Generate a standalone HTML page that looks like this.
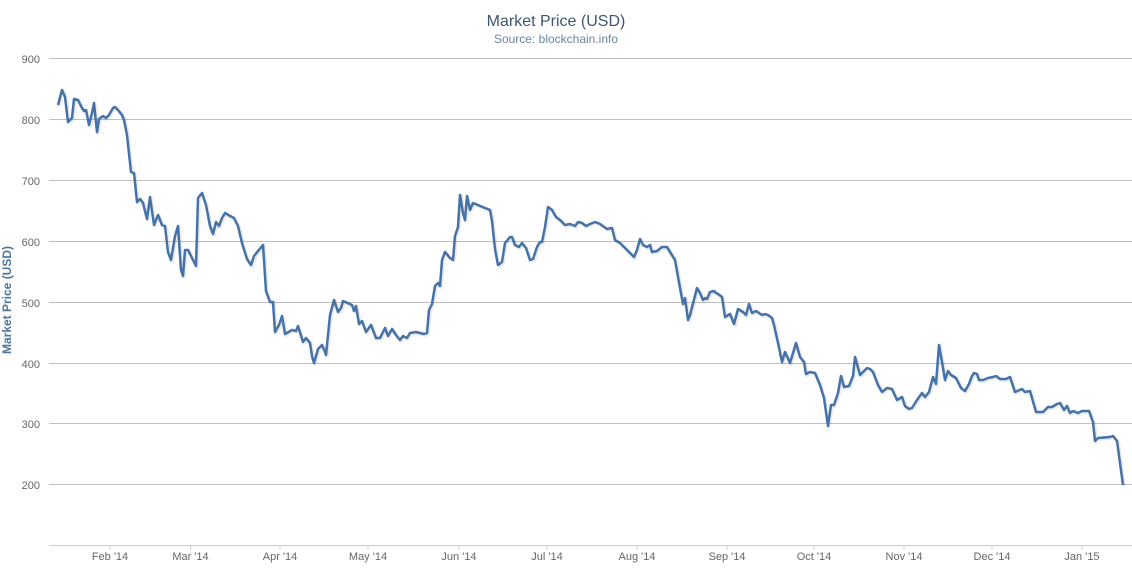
<!DOCTYPE html>
<html><head><meta charset="utf-8"><style>
html,body{margin:0;padding:0;background:#fff;}
svg{display:block;font-family:"Liberation Sans",sans-serif;}
</style></head><body>
<svg width="1132" height="568" viewBox="0 0 1132 568" xmlns="http://www.w3.org/2000/svg">
<defs>
<polyline id="pl" points="58,105 62,90 65,97 68,122 72,118 74,99 78,100 82,108 84,111 86,110 89,125 92,113 94,103 97,132 99,119 103,116 106,118 109,115 113,108 115,107 118,110 122,115 124,120 127,135 131,172 134,173 137,202 140,199 143,203 147,219 150,197 154,225 158,215 162,225 165,226 168,252 171,260 175,236 178,226 181,270 183,276 185,250 188,250 192,258 196,266 198,198 202,193 206,205 210,226 213,234 216,222 219,226 222,218 225,213 230,216 234,218 238,226 242,243 247,259 251,265 254,256 258,251 263,245 266,291 270,302 273,302 275,332 279,325 282,316 285,334 292,330 296,331 298,326 303,342 306,338 310,343 312,356 314,363 318,349 322,345 325,352 326,355 330,315 334,300 338,312 341,308 343,301 352,305 354,311 356,306 359,324 362,321 366,332 371,325 376,338 380,338 385,328 388,336 392,329 396,335 400,340 403,336 407,338 410,333 416,332 424,334 427,333 429,310 432,304 435,286 438,283 440,286 442,260 445,252 450,258 453,260 455,236 458,227 460,195 463,213 465,220 467,196 470,210 473,203 485,208 490,210 492,221 495,249 498,265 502,262 505,243 510,237 512,237 515,245 519,247 522,243 526,248 530,260 533,259 537,247 540,242 542,242 545,227 548,207 552,210 556,217 560,220 565,225 570,224 575,226 578,222 582,223 586,226 590,224 595,222 600,224 607,229 612,228 615,240 620,243 625,248 630,253 634,257 637,250 640,239 643,245 647,247 650,245 652,252 657,251 662,247 667,247 670,252 675,260 680,288 683,304 685,298 688,320 690,315 697,288 700,293 703,300 705,298 707,299 710,292 714,291 716,293 718,294 722,297 725,317 730,314 734,324 738,309 743,312 746,315 749,304 752,313 756,311 762,315 765,314 768,315 772,318 774,325 778,343 782,362 785,352 790,363 796,343 800,357 804,362 806,374 810,372 815,373 820,385 824,398 828,426 831,405 834,405 838,393 841,376 844,387 849,386 853,376 855,357 860,375 865,370 867,368 870,369 873,372 878,385 882,392 887,388 892,389 897,400 902,397 905,406 909,409 912,408 917,400 922,393 925,397 929,392 933,377 936,384 939,345 942,362 945,380 948,371 951,375 956,378 961,388 965,391 969,384 972,376 974,373 977,374 979,380 983,380 988,378 993,377 996,376 1000,379 1006,379 1010,377 1015,392 1022,389 1025,392 1030,391 1036,412 1043,412 1048,407 1052,407 1057,404 1060,403 1064,410 1067,406 1070,413 1073,411 1078,413 1082,411 1089,411 1093,422 1095,441 1098,438 1110,437 1113,436 1117,441 1123,485"/>
</defs>
<text x="556" y="26" text-anchor="middle" font-size="16" fill="#3E576F">Market Price (USD)</text>
<text x="556" y="43" text-anchor="middle" font-size="12" fill="#6D869F">Source: blockchain.info</text>
<g stroke="#C0C0C0" stroke-width="1">
<line x1="49" x2="1132" y1="58.5" y2="58.5"/>
<line x1="49" x2="1132" y1="119.5" y2="119.5"/>
<line x1="49" x2="1132" y1="180.5" y2="180.5"/>
<line x1="49" x2="1132" y1="241.5" y2="241.5"/>
<line x1="49" x2="1132" y1="302.5" y2="302.5"/>
<line x1="49" x2="1132" y1="363.5" y2="363.5"/>
<line x1="49" x2="1132" y1="423.5" y2="423.5"/>
<line x1="49" x2="1132" y1="484.5" y2="484.5"/>
</g>
<g font-size="11" fill="#666" text-anchor="end">
<text x="40" y="63">900</text><text x="40" y="124">800</text><text x="40" y="185">700</text>
<text x="40" y="246">600</text><text x="40" y="307">500</text><text x="40" y="368">400</text>
<text x="40" y="428">300</text><text x="40" y="489">200</text>
</g>
<text transform="translate(11,300) rotate(-90)" text-anchor="middle" font-size="12" font-weight="bold" fill="#4D759E">Market Price (USD)</text>
<line x1="49" x2="1132" y1="545.5" y2="545.5" stroke="#C0D0E0"/>
<g stroke="#C0D0E0">
<line x1="110" x2="110" y1="545" y2="550"/><line x1="190.5" x2="190.5" y1="545" y2="550"/>
<line x1="280" x2="280" y1="545" y2="550"/><line x1="368" x2="368" y1="545" y2="550"/>
<line x1="459" x2="459" y1="545" y2="550"/><line x1="547" x2="547" y1="545" y2="550"/>
<line x1="637" x2="637" y1="545" y2="550"/><line x1="727" x2="727" y1="545" y2="550"/>
<line x1="814" x2="814" y1="545" y2="550"/><line x1="904" x2="904" y1="545" y2="550"/>
<line x1="992" x2="992" y1="545" y2="550"/><line x1="1082" x2="1082" y1="545" y2="550"/>
</g>
<g font-size="11" fill="#666" text-anchor="middle">
<text x="110" y="560">Feb '14</text><text x="190.5" y="560">Mar '14</text><text x="280" y="560">Apr '14</text>
<text x="368" y="560">May '14</text><text x="459" y="560">Jun '14</text><text x="547" y="560">Jul '14</text>
<text x="637" y="560">Aug '14</text><text x="727" y="560">Sep '14</text><text x="814" y="560">Oct '14</text>
<text x="904" y="560">Nov '14</text><text x="992" y="560">Dec '14</text><text x="1082" y="560">Jan '15</text>
</g>
<use href="#pl" transform="translate(1,1)" fill="none" stroke="#000" stroke-opacity="0.08" stroke-width="4" stroke-linejoin="round"/>
<use href="#pl" fill="none" stroke="#4572A7" stroke-width="2.5" stroke-linejoin="round"/>
</svg>
</body></html>
